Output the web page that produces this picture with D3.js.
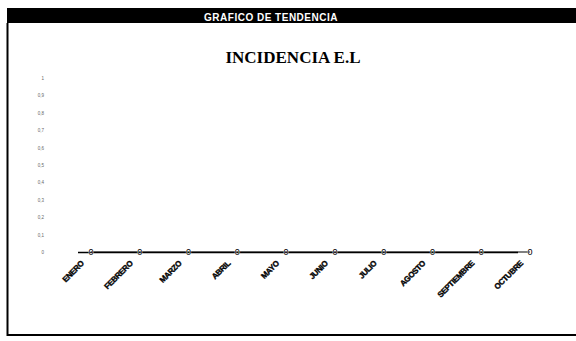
<!DOCTYPE html>
<html>
<head>
<meta charset="utf-8">
<script src="https://cdn.jsdelivr.net/npm/d3@7"></script>
<style>
  html, body { margin: 0; padding: 0; background: #fff; }
  svg { display: block; }
</style>
</head>
<body>
<svg id="chart" width="576" height="341"></svg>
<script>
// Monthly incidence values (all months at zero)
const months = ["ENERO", "FEBRERO", "MARZO", "ABRIL", "MAYO", "JUNIO", "JULIO", "AGOSTO", "SEPTIEMBRE", "OCTUBRE"];
const incidence = [0, 0, 0, 0, 0, 0, 0, 0, 0, 0];
const yTicks = [0, 0.1, 0.2, 0.3, 0.4, 0.5, 0.6, 0.7, 0.8, 0.9, 1];
const headerText = "GRAFICO DE TENDENCIA";
const titleText = "INCIDENCIA E.L";

const svg = d3.select("#chart");

// Outer frame: left and bottom borders
svg.append("path")
  .attr("d", "M7.5,23 L7.5,335 L576,335")
  .attr("fill", "none")
  .attr("stroke", "#000")
  .attr("stroke-width", 2);

// Header bar
svg.append("rect")
  .attr("x", 7).attr("y", 8).attr("width", 569).attr("height", 15)
  .attr("fill", "#000");
svg.append("text")
  .attr("x", 271).attr("y", 20.5)
  .attr("text-anchor", "middle")
  .attr("fill", "#fff")
  .attr("font-family", "'Liberation Sans', Arial, sans-serif")
  .attr("font-weight", "bold")
  .attr("font-size", 10)
  .attr("letter-spacing", 0.5)
  .text(headerText);

// Chart title
svg.append("text")
  .attr("x", 293).attr("y", 63)
  .attr("text-anchor", "middle")
  .attr("fill", "#000")
  .attr("font-family", "'Liberation Serif', 'Times New Roman', serif")
  .attr("font-weight", "bold")
  .attr("font-size", 17)
  .text(titleText);

// Scales
const x = d3.scalePoint().domain(months).range([91, 530]);
const y = d3.scaleLinear().domain([0, 1]).range([252, 78]);

// Y axis: faint tick labels only
const yAxis = svg.append("g")
  .attr("transform", "translate(44,0)")
  .call(d3.axisLeft(y).tickValues(yTicks).tickSize(0).tickPadding(0)
    .tickFormat(d => d3.format(".1~f")(d).replace(".", ",")));
yAxis.select(".domain").remove();
yAxis.selectAll("text")
  .attr("fill", "#666")
  .attr("font-family", "'Liberation Sans', Arial, sans-serif")
  .attr("font-size", 4.5);

// X axis line and rotated month labels
const xAxis = svg.append("g")
  .attr("transform", `translate(0,${y(0)})`)
  .call(d3.axisBottom(x).tickSize(0).tickPadding(0));
xAxis.select(".domain")
  .attr("d", `M${x(months[0]) - 13},0.5 H${x(months[months.length - 1]) - 12}`)
  .attr("stroke", "#000")
  .attr("stroke-width", 1.4);
xAxis.selectAll(".tick text")
  .attr("text-anchor", "end")
  .attr("font-family", "'Liberation Sans Narrow', 'Liberation Sans', Arial, sans-serif")
  .attr("font-weight", "bold")
  .attr("font-size", 8)
  .attr("letter-spacing", -0.4)
  .attr("fill", "#000")
  .attr("stroke", "#000")
  .attr("stroke-width", 0.35)
  .attr("dy", "0.35em")
  .attr("transform", "translate(-9,10) rotate(-45)");

// Series line
const line = d3.line().x((d, i) => x(months[i])).y(d => y(d));
svg.append("path")
  .datum(incidence)
  .attr("d", line)
  .attr("fill", "none")
  .attr("stroke", "#000")
  .attr("stroke-width", 1);

// Data labels at each point
svg.append("g").selectAll("text")
  .data(incidence)
  .join("text")
  .attr("x", (d, i) => x(months[i]))
  .attr("y", d => y(d))
  .attr("dy", "0.35em")
  .attr("text-anchor", "middle")
  .attr("font-family", "'Liberation Sans', Arial, sans-serif")
  .attr("font-size", 9)
  .attr("fill", "#000")
  .attr("stroke", "#fff")
  .attr("stroke-width", 0.6)
  .attr("paint-order", "stroke")
  .text(d => d);
</script>
</body>
</html>
